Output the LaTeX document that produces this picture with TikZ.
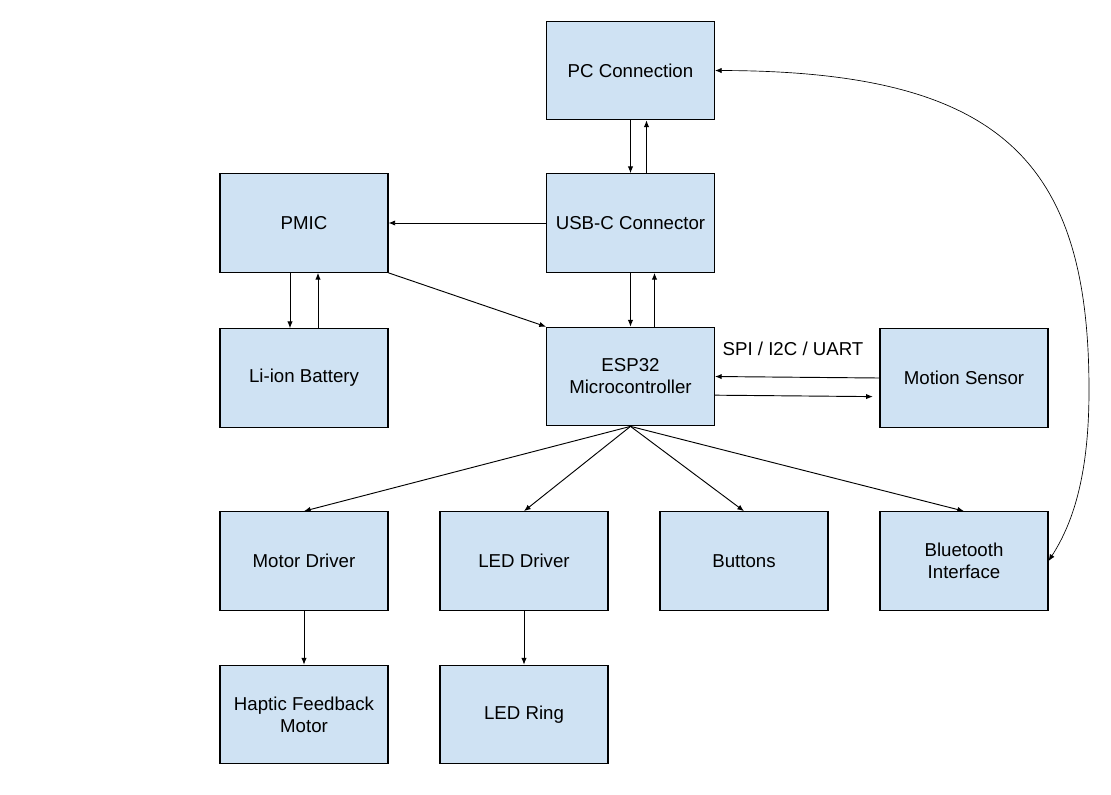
\documentclass[tikz,border=0pt]{standalone}
\usepackage{fontspec}
\setmainfont{Liberation Sans}
\usetikzlibrary{arrows.meta}
\definecolor{boxblue}{HTML}{CFE2F3}
\tikzset{
  block/.style={draw=black, fill=boxblue, line width=0.8pt, minimum width=126pt,
    minimum height=74pt, align=center, font=\fontsize{14}{16.5}\selectfont},
  link/.style={-{Latex[length=5pt,width=4pt]}, line width=0.7pt},
}
\begin{document}
\begin{tikzpicture}[x=0.75pt,y=-0.75pt]
\useasboundingbox (0,0) rectangle (1111,794);

\node[block] (pc) at (630.5,70.5) {PC Connection};
\node[block] (usb) at (630.5,223) {USB-C Connector};
\node[block] (pmic) at (304,223) {PMIC};
\node[block] (battery) at (304,378) {Li-ion Battery};
\node[block] (esp) at (630.5,376.5) {ESP32\\Microcontroller};
\node[block] (motion) at (964,378) {Motion Sensor};
\node[block] (motor) at (304,561) {Motor Driver};
\node[block] (leddrv) at (524,561) {LED Driver};
\node[block] (buttons) at (744,561) {Buttons};
\node[block] (bt) at (964,561) {Bluetooth\\Interface};
\node[block] (haptic) at (304,714.5) {Haptic Feedback\\Motor};
\node[block] (ring) at (524,714.5) {LED Ring};

\node[font=\fontsize{14}{16.5}\selectfont] (bus) at (793,349) {SPI / I2C / UART};

\draw[link] (pc.south) -- (usb.north);
\draw[link] ([xshift=12pt]usb.north) -- ([xshift=12pt]pc.south);
\draw[link] (usb.west) -- (pmic.east);
\draw[link] ([xshift=-10.5pt]pmic.south) -- ([xshift=-10.5pt]battery.north);
\draw[link] ([xshift=10.5pt]battery.north) -- ([xshift=10.5pt]pmic.south);
\draw[link] (pmic.south east) -- (esp.north west);
\draw[link] (usb.south) -- (esp.north);
\draw[link] ([xshift=18pt]esp.north) -- ([xshift=18pt]usb.south);
\draw[link] (motion.west) -- (esp.east);
\draw[link, shorten >=5pt] ([yshift=-14pt]esp.east) -- ([yshift=-14pt]motion.west);

\draw[link] (esp.south) -- (motor.north);
\draw[link] (esp.south) -- (leddrv.north);
\draw[link] (esp.south) -- (buttons.north);
\draw[link] (esp.south) -- (bt.north);
\draw[link] (motor.south) -- (haptic.north);
\draw[link] (leddrv.south) -- (ring.north);

% curved link between PC and Bluetooth
\draw[link, {Latex[length=5pt,width=4pt]}-{Latex[length=5pt,width=4pt]}, line width=0.5pt]
  (pc.east) .. controls (1000,71) and (1089,160) .. (1089,390)
  .. controls (1089,470) and (1075,520) .. (bt.east);
\end{tikzpicture}
\end{document}
